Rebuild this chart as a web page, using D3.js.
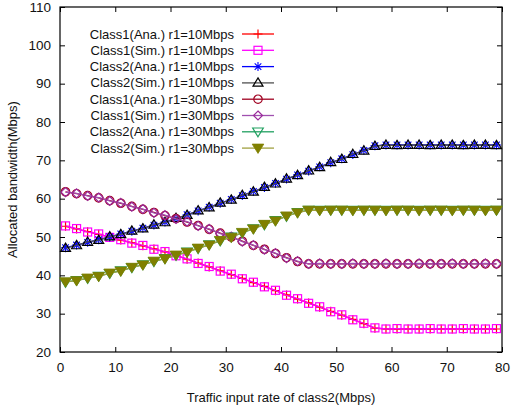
<!DOCTYPE html>
<html>
<head>
<meta charset="utf-8">
<script src="https://cdn.jsdelivr.net/npm/d3@7"></script>
<style>
  body { margin: 0; background: #fff; }
  svg { display: block; font-family: "Liberation Sans", Arial, sans-serif; }
</style>
</head>
<body>
<svg id="chart" width="511" height="407"></svg>
<script>
// input rate of class2 (Mbps)
const xValues = [1, 3, 5, 7, 9, 11, 13, 15, 17, 19, 21, 23, 25, 27, 29, 31, 33, 35, 37, 39,
  41, 43, 45, 47, 49, 51, 53, 55, 57, 59, 61, 63, 65, 67, 69, 71, 73, 75, 77, 79];

const class1AnaR10 = [52.8, 52.1, 51.4, 50.7, 50.0, 49.2, 48.5, 47.7, 46.9, 46.1, 45.2, 44.2, 43.2, 42.2, 41.2, 40.2, 39.2, 38.1, 37.1, 36.0,
  34.9, 33.8, 32.8, 31.7, 30.6, 29.6, 28.5, 27.4, 26.2, 26.0, 26.0, 26.0, 26.0, 26.0, 26.0, 26.0, 26.0, 26.0, 26.0, 26.0];
const class1SimR10 = [52.9, 52.2, 51.3, 50.8, 49.9, 49.3, 48.4, 47.8, 46.8, 46.2, 45.1, 44.3, 43.1, 42.3, 41.1, 40.3, 39.1, 38.2, 37.0, 36.1,
  34.8, 33.9, 32.7, 31.8, 30.5, 29.7, 28.4, 27.5, 26.3, 26.0, 26.1, 26.0, 26.0, 26.1, 26.0, 26.0, 26.1, 26.0, 26.0, 26.1];
const class2AnaR10 = [47.2, 47.9, 48.6, 49.3, 50.0, 50.8, 51.5, 52.3, 53.1, 53.9, 54.8, 55.8, 56.8, 57.8, 58.8, 59.8, 60.8, 61.9, 62.9, 64.0,
  65.1, 66.2, 67.2, 68.3, 69.4, 70.4, 71.5, 72.6, 73.8, 74.0, 74.0, 74.0, 74.0, 74.0, 74.0, 74.0, 74.0, 74.0, 74.0, 74.0];
const class2SimR10 = [47.1, 47.8, 48.7, 49.2, 50.1, 50.7, 51.6, 52.2, 53.2, 53.8, 54.9, 55.7, 56.9, 57.7, 58.9, 59.7, 60.9, 61.8, 63.0, 63.9,
  65.2, 66.1, 67.3, 68.2, 69.5, 70.3, 71.6, 72.5, 73.7, 74.0, 73.9, 74.0, 74.0, 73.9, 74.0, 74.0, 73.9, 74.0, 74.0, 73.9];
const class1AnaR30 = [61.8, 61.3, 60.8, 60.2, 59.5, 58.8, 58.0, 57.2, 56.4, 55.6, 54.8, 53.9, 53.0, 52.0, 51.0, 50.0, 48.9, 47.8, 46.8, 45.7,
  44.6, 43.6, 43.0, 43.0, 43.0, 43.0, 43.0, 43.0, 43.0, 43.0, 43.0, 43.0, 43.0, 43.0, 43.0, 43.0, 43.0, 43.0, 43.0, 43.0];
const class1SimR30 = [61.7, 61.4, 60.7, 60.3, 59.4, 58.9, 57.9, 57.3, 56.3, 55.7, 54.7, 54.0, 52.9, 52.1, 50.9, 50.1, 48.8, 47.9, 46.7, 45.8,
  44.5, 43.7, 43.0, 43.1, 43.0, 43.0, 43.1, 43.0, 43.0, 43.1, 43.0, 43.0, 43.1, 43.0, 43.0, 43.1, 43.0, 43.0, 43.1, 43.0];
const class2AnaR30 = [38.2, 38.7, 39.2, 39.8, 40.5, 41.2, 42.0, 42.8, 43.6, 44.4, 45.2, 46.1, 47.0, 48.0, 49.0, 50.0, 51.1, 52.2, 53.2, 54.3,
  55.4, 56.4, 57.0, 57.0, 57.0, 57.0, 57.0, 57.0, 57.0, 57.0, 57.0, 57.0, 57.0, 57.0, 57.0, 57.0, 57.0, 57.0, 57.0, 57.0];
const class2SimR30 = [38.3, 38.6, 39.3, 39.7, 40.6, 41.1, 42.1, 42.7, 43.7, 44.3, 45.3, 46.0, 47.1, 47.9, 49.1, 49.9, 51.2, 52.1, 53.3, 54.2,
  55.5, 56.3, 57.0, 56.9, 57.0, 57.0, 56.9, 57.0, 57.0, 56.9, 57.0, 57.0, 56.9, 57.0, 57.0, 56.9, 57.0, 57.0, 56.9, 57.0];

const xTicks = [0, 10, 20, 30, 40, 50, 60, 70, 80];
const yTicks = [20, 30, 40, 50, 60, 70, 80, 90, 100, 110];

const seriesList = [
  { name: "Class1(Ana.) r1=10Mbps", values: class1AnaR10, color: "#ff0000", marker: "plus" },
  { name: "Class1(Sim.) r1=10Mbps", values: class1SimR10, color: "#ff00ff", marker: "square" },
  { name: "Class2(Ana.) r1=10Mbps", values: class2AnaR10, color: "#0000ff", marker: "star" },
  { name: "Class2(Sim.) r1=10Mbps", values: class2SimR10, color: "#000000", lineColor: "#505050", marker: "triUp" },
  { name: "Class1(Ana.) r1=30Mbps", values: class1AnaR30, color: "#a00020", marker: "circle" },
  { name: "Class1(Sim.) r1=30Mbps", values: class1SimR30, color: "#9a2a9a", lineColor: "#a050b0", marker: "diamond" },
  { name: "Class2(Ana.) r1=30Mbps", values: class2AnaR30, color: "#20a060", marker: "triDown" },
  { name: "Class2(Sim.) r1=30Mbps", values: class2SimR30, color: "#808000", lineColor: "#a0a040", marker: "triDownFilled" }
];

const svg = d3.select("#chart");
const margin = { left: 60, right: 9, top: 7, bottom: 55 };
const width = +svg.attr("width");
const height = +svg.attr("height");

const x = d3.scaleLinear().domain([0, 80]).range([margin.left, width - margin.right]);
const y = d3.scaleLinear().domain([20, 110]).range([height - margin.bottom, margin.top]);

function drawMarker(g, type, color) {
  if (type === "plus") {
    g.append("path").attr("d", "M-4.5,0H4.5M0,-4.5V4.5").attr("stroke", color).attr("stroke-width", 1.2);
  } else if (type === "square") {
    g.append("rect").attr("x", -4).attr("y", -4).attr("width", 8).attr("height", 8)
      .attr("fill", "none").attr("stroke", color).attr("stroke-width", 1.2);
  } else if (type === "star") {
    g.append("path").attr("d", "M-4.5,0H4.5M0,-4.5V4.5M-3.3,-3.3L3.3,3.3M-3.3,3.3L3.3,-3.3").attr("stroke", color).attr("stroke-width", 1.1);
  } else if (type === "triUp") {
    g.append("path").attr("d", "M0,-5L5,3.3L-5,3.3Z").attr("fill", "none").attr("stroke", color).attr("stroke-width", 1.2);
  } else if (type === "circle") {
    g.append("circle").attr("r", 4.2).attr("fill", "none").attr("stroke", color).attr("stroke-width", 1.2);
  } else if (type === "diamond") {
    g.append("path").attr("d", "M0,-4.5L4.5,0L0,4.5L-4.5,0Z").attr("fill", "none").attr("stroke", color).attr("stroke-width", 1.2);
  } else if (type === "triDown") {
    g.append("path").attr("d", "M0,5L5.3,-3.8L-5.3,-3.8Z").attr("fill", "none").attr("stroke", color).attr("stroke-width", 1.2);
  } else if (type === "triDownFilled") {
    g.append("path").attr("d", "M0,5.3L5.8,-4L-5.8,-4Z").attr("fill", color).attr("stroke", color).attr("stroke-width", 0.8);
  }
}

// axes with inward ticks on every side
const tickLen = 5;
const bottomAxis = d3.axisBottom(x).tickValues(xTicks).tickSize(-tickLen).tickPadding(10);
const leftAxis = d3.axisLeft(y).tickValues(yTicks).tickSize(-tickLen).tickPadding(9);

const gx = svg.append("g").attr("transform", `translate(0,${height - margin.bottom})`).call(bottomAxis);
const gy = svg.append("g").attr("transform", `translate(${margin.left},0)`).call(leftAxis);
svg.append("g").attr("transform", `translate(0,${margin.top})`)
  .call(d3.axisTop(x).tickValues(xTicks).tickSize(-tickLen).tickFormat(""));
svg.append("g").attr("transform", `translate(${width - margin.right},0)`)
  .call(d3.axisRight(y).tickValues(yTicks).tickSize(-tickLen).tickFormat(""));

svg.selectAll(".domain").remove();
svg.selectAll(".tick line").attr("stroke", "#000");
[gx, gy].forEach(g => g.selectAll("text").attr("font-size", 13.5).attr("fill", "#111")
  .attr("font-family", "Liberation Sans, Arial, sans-serif"));

svg.append("rect")
  .attr("x", margin.left).attr("y", margin.top)
  .attr("width", width - margin.left - margin.right)
  .attr("height", height - margin.top - margin.bottom)
  .attr("fill", "none").attr("stroke", "#000").attr("stroke-width", 1.2);

svg.append("text")
  .attr("x", (margin.left + width - margin.right) / 2)
  .attr("y", 402)
  .attr("text-anchor", "middle")
  .attr("font-size", 13)
  .attr("fill", "#111")
  .text("Traffic input rate of class2(Mbps)");

svg.append("text")
  .attr("transform", `translate(17,${(margin.top + height - margin.bottom) / 2}) rotate(-90)`)
  .attr("text-anchor", "middle")
  .attr("font-size", 13)
  .attr("fill", "#111")
  .text("Allocated bandwidth(Mbps)");

const line = d3.line().x((d, i) => x(xValues[i])).y(d => y(d));

seriesList.forEach(s => {
  const g = svg.append("g");
  g.append("path")
    .datum(s.values)
    .attr("d", line)
    .attr("fill", "none")
    .attr("stroke", s.lineColor || s.color)
    .attr("stroke-width", 1.3);

  g.selectAll("g.pt")
    .data(s.values)
    .enter().append("g")
    .attr("class", "pt")
    .attr("transform", (d, i) => `translate(${x(xValues[i])},${y(d)})`)
    .each(function () { drawMarker(d3.select(this), s.marker, s.color); });
});

// legend
const legend = svg.append("g");
seriesList.forEach((s, i) => {
  const ly = 34 + i * 16.3;
  legend.append("text")
    .attr("x", 234)
    .attr("y", ly)
    .attr("dy", "0.35em")
    .attr("text-anchor", "end")
    .attr("font-size", 13)
    .attr("fill", "#111")
    .text(s.name);
  legend.append("line")
    .attr("x1", 242).attr("x2", 274)
    .attr("y1", ly).attr("y2", ly)
    .attr("stroke", s.lineColor || s.color)
    .attr("stroke-width", 1.3);
  const mg = legend.append("g").attr("transform", `translate(258,${ly})`);
  drawMarker(mg, s.marker, s.color);
});
</script>
</body>
</html>
